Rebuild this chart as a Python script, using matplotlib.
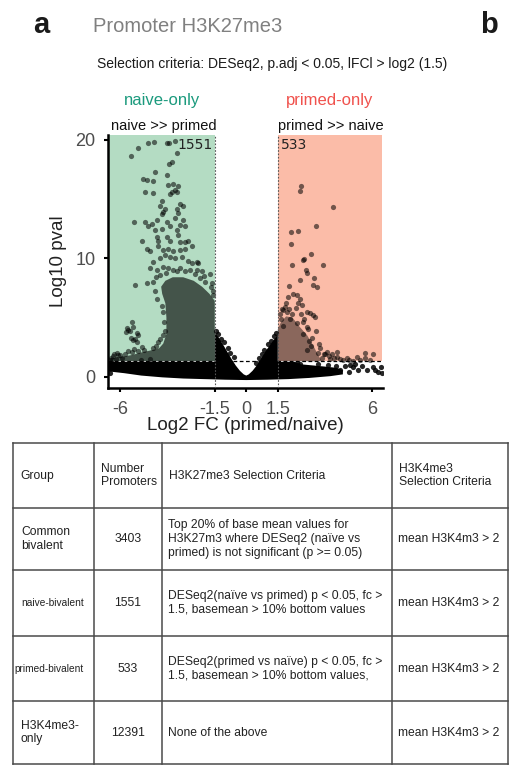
import matplotlib
matplotlib.use("Agg")
import matplotlib.pyplot as plt

plt.rcParams['font.family'] = ['Liberation Sans', 'DejaVu Sans']

W, H = 509, 765

# --- volcano plot data ---
fc_cut = 1.5
p_cut = 1.3
x_lim = (-6.58, 6.51)
y_lim = (-0.95, 20.41)
shade_right = 6.45
n_naive = 1551
n_primed = 533

# scattered significant points, naive side (log2 FC, -log10 p)
naive_fc = [-4.66, -5.14, -5.50, -4.40, -3.76, -3.66, -3.39, -3.31, -3.66, -3.55,
            -4.32, -4.90, -4.74, -4.42, -3.79, -3.71, -3.47, -3.39, -3.23, -3.55, -3.63,
            -4.82, -4.42, -3.31, -4.02, -4.10, -3.15, -3.87, -3.95, -4.02, -3.31, -3.23, -2.99,
            -5.34, -4.82, -4.50, -4.26, -3.79, -3.39, -2.99, -2.91,
            -4.66, -4.34, -4.02, -3.63, -3.31, -3.15,
            -4.98, -4.26, -4.18, -3.79, -3.63, -3.23, -3.15, -2.91, -2.75,
            -4.74, -4.58, -4.18, -3.95, -3.71, -3.47, -3.15, -2.91, -2.59, -2.36, -2.28,
            -4.42, -4.10, -3.87, -3.63, -3.39, -3.07, -2.75, -2.59,
            -4.58, -4.26, -3.95, -3.71, -3.47, -3.15, -2.91, -2.68, -2.36, -2.12, -1.72,
            -5.29, -4.74,
            -4.30, -4.45, -2.20, -1.95, -1.70, -1.60, -4.35, -4.25, -4.00, -3.95, -3.90, -3.85,
            -4.10, -3.95, -2.00, -2.45, -3.30, -3.80, -4.10, -1.58, -1.65,
            -5.69, -5.53, -5.37, -5.21, -5.14, -5.45, -5.61, -5.72, -5.29, -5.37, -5.20, -5.50,
            -6.17, -6.01, -6.30, -6.45,
            -4.45, -4.85, -5.15, -5.45, -5.75, -6.10, -6.35, -4.95, -5.35, -5.65, -4.30, -4.20,
            -6.50, -6.20, -5.90, -5.00, -4.60]
naive_p = [19.7, 19.3, 18.6, 19.8, 19.7, 19.7, 19.9, 18.9, 18.0, 18.1,
           17.3, 16.7, 16.6, 16.5, 17.0, 16.2, 16.3, 15.8, 16.1, 15.6, 15.4,
           15.6, 15.5, 15.6, 14.8, 14.4, 14.6, 14.2, 13.9, 13.7, 14.2, 13.8, 14.4,
           13.1, 13.1, 12.9, 13.2, 13.1, 13.4, 13.2, 12.7,
           12.7, 12.4, 12.5, 12.7, 12.4, 12.8,
           11.5, 11.8, 11.5, 11.8, 11.5, 12.0, 11.4, 11.4, 11.5,
           10.8, 10.6, 11.0, 10.7, 10.8, 10.6, 10.7, 10.8, 11.0, 9.7, 9.6,
           9.7, 10.0, 10.3, 10.1, 10.0, 10.1, 9.8, 9.6,
           9.15, 9.0, 9.3, 9.15, 9.0, 9.15, 8.9, 9.0, 9.0, 8.9, 8.7,
           7.75, 7.9,
           8.4, 8.0, 8.3, 8.0, 7.6, 7.2, 7.2, 6.6, 6.0, 5.5, 4.6, 3.9,
           3.2, 3.5, 8.5, 8.7, 8.9, 8.8, 8.6, 6.9, 7.9,
           4.1, 3.9, 4.2, 3.7, 3.5, 4.6, 3.95, 3.8, 3.2, 3.1, 2.9, 3.3,
           2.0, 1.8, 1.9, 1.6,
           2.45, 2.3, 2.2, 2.05, 1.9, 1.85, 1.75, 2.5, 2.35, 2.15, 2.6, 2.9,
           1.45, 1.5, 1.55, 1.45, 1.5]

# scattered significant points, primed side
primed_fc = [2.61, 2.58, 4.15, 3.32, 2.48, 2.13, 2.13, 3.09, 2.75, 2.72, 2.85, 2.91,
             3.64, 2.16, 3.24, 2.56, 3.19, 3.35, 2.05, 2.24, 2.40, 2.56, 2.48, 2.64,
             2.00, 1.90, 1.77, 1.96, 2.91, 3.04, 3.19, 3.27, 2.40, 2.72, 2.88, 3.32,
             3.83, 4.30, 4.62, 5.10, 5.40, 5.66, 6.05, 5.66, 4.31, 3.00, 3.10, 2.70,
             2.90, 3.40, 3.60, 4.00, 4.80, 1.65, 1.75, 2.10, 2.20, 2.35, 2.60, 2.75,
             3.50, 3.70, 2.95, 4.45, 5.90, 1.60, 1.70, 1.85, 2.05, 3.15, 3.45, 3.75,
             3.95, 4.20, 4.10, 4.90, 5.25]
primed_p = [16.1, 15.7, 14.3, 12.75, 12.3, 12.2, 11.2, 10.4, 9.9, 9.85, 9.0, 8.8,
            9.4, 9.4, 8.3, 8.2, 7.75, 7.6, 7.65, 7.0, 6.9, 6.6, 6.2, 6.05,
            6.75, 6.2, 5.6, 5.5, 5.5, 5.35, 5.2, 5.05, 4.5, 4.65, 4.2, 3.85,
            2.1, 1.7, 1.45, 1.35, 1.45, 1.55, 1.9, 2.0, 2.1, 3.0, 2.6, 3.6,
            2.3, 2.0, 1.6, 1.5, 1.6, 4.9, 4.3, 4.9, 5.3, 5.8, 5.3, 4.9,
            2.4, 1.9, 4.0, 1.5, 1.4, 5.3, 5.7, 5.9, 5.75, 3.3, 2.8, 1.9,
            1.75, 1.55, 1.9, 1.45, 1.7]

# non-significant points outside the dense cloud
ns_fc = [-1.35, -1.20, -0.85, -0.60, 0.60, 0.85, 1.20, 1.40, 1.30, -1.45,
         4.47, 4.70, 4.94, 5.10, 5.30, 5.50, 5.74, 6.05, 6.29, 6.45, 4.90, 5.20, 6.15, 6.40,
         -6.50, -6.40, 2.40, 2.55, -1.05, -0.75, 0.45, 0.75, 1.05, 3.40, 3.90, 4.25]
ns_p = [3.6, 3.2, 2.4, 1.7, 1.6, 2.3, 3.0, 3.7, 3.4, 3.9,
        0.57, 0.90, 0.99, 0.85, 0.60, 0.90, 0.56, 0.85, 0.42, 0.34, 0.40, 1.05, 0.60, 0.85,
        0.30, 1.20, 1.18, 1.10, 2.9, 2.0, 1.2, 1.9, 2.8, 1.05, 0.95, 0.9]

# outline of the dense non-significant cloud
band_fc = [-6.55, -1.5, -1.5, -1.3, -1.1, -0.9, -0.7, -0.5, -0.3, -0.12, 0.0, 0.12, 0.3,
           0.5, 0.7, 0.9, 1.1, 1.3, 1.5, 1.5, 2.3, 2.6, 3.2, 3.8, 4.3, 4.6, 4.6, 4.0,
           3.0, 2.0, 1.0, 0.0, -1.0, -2.0, -3.0, -4.0, -5.0, -5.8, -6.55]
band_p = [1.25, 1.25, 3.7, 3.3, 2.7, 2.1, 1.5, 0.95, 0.5, 0.2, 0.1, 0.2, 0.5,
          0.95, 1.5, 2.1, 2.6, 3.1, 3.5, 1.25, 1.25, 1.05, 0.95, 0.85, 0.75, 0.55, 0.2, 0.05,
          -0.1, -0.2, -0.25, -0.28, -0.25, -0.2, -0.15, -0.05, 0.1, 0.3, 0.45]

# outline of the dense naive-up cloud
core_n_fc = [-1.5, -1.5, -1.75, -2.1, -2.5, -3.0, -3.5, -3.85, -4.05, -4.0, -3.85, -3.8,
             -3.8, -3.95, -4.15, -4.6, -5.0, -5.4, -6.0, -6.45, -6.5]
core_n_p = [1.3, 6.4, 7.0, 7.6, 8.1, 8.4, 8.4, 8.1, 7.6, 7.0, 6.2, 5.0,
            3.6, 2.8, 2.4, 2.2, 2.05, 1.85, 1.65, 1.6, 1.3]

# outline of the dense primed-up cloud
core_p_fc = [1.5, 1.5, 1.65, 1.9, 2.2, 2.5, 2.9, 3.2, 3.4, 3.6]
core_p_p = [1.3, 4.0, 4.6, 5.1, 5.0, 4.3, 3.5, 2.6, 1.9, 1.3]

x_ticks = [-6, -1.5, 0, 1.5, 6]
x_ticklabels = ['-6', '-1.5', '0', '1.5', '6']
y_ticks = [0, 10, 20]

# --- table data ---
col_edges = [13, 94, 162, 392, 508]
row_edges = [443, 508, 570, 636, 701, 764]
header = ['Group', 'Number\nPromoters', 'H3K27me3 Selection Criteria', 'H3K4me3\nSelection Criteria']
groups = ['Common\nbivalent', 'naive-bivalent', 'primed-bivalent', 'H3K4me3-\nonly']
counts = ['3403', '1551', '533', '12391']
k27_criteria = ['Top 20% of base mean values for\nH3K27m3 where DESeq2 (na\u00efve vs\nprimed) is not significant (p >= 0.05)',
                'DESeq2(na\u00efve vs primed) p < 0.05, fc >\n1.5, basemean > 10% bottom values',
                'DESeq2(primed vs na\u00efve) p < 0.05, fc >\n1.5, basemean > 10% bottom values,',
                'None of the above']
k4_criteria = ['mean H3K4m3 > 2'] * 4
group_small = [False, True, True, False]
group_indent = [8, 8, 1, 8]

green = '#b4dcc3'
red = '#fbbca8'
teal = '#1b9a7d'
salmon = '#f0524d'

fig = plt.figure(figsize=(W / 100, H / 100), dpi=100)


def fx(px):
    return px / W


def fy(py):
    return 1 - py / H


# ---------- volcano plot ----------
ax = fig.add_axes([fx(108), fy(388), 275 / W, 253 / H])
ax.set_xlim(*x_lim)
ax.set_ylim(*y_lim)

ax.fill_between([x_lim[0], -fc_cut], p_cut, y_lim[1], color=green, lw=0, zorder=1)
ax.fill_between([fc_cut, shade_right], p_cut, y_lim[1], color=red, lw=0, zorder=1)

ax.fill(band_fc, band_p, color='black', lw=0, zorder=2)
ax.fill(core_n_fc, core_n_p, color='black', alpha=0.62, lw=0, zorder=2)
ax.fill(core_p_fc, core_p_p, color='black', alpha=0.45, lw=0, zorder=2)

ax.scatter(naive_fc, naive_p, s=14, color='black', alpha=0.55, lw=0, zorder=3)
ax.scatter(primed_fc, primed_p, s=14, color='black', alpha=0.55, lw=0, zorder=3)
ax.scatter(ns_fc, ns_p, s=14, color='black', alpha=0.85, lw=0, zorder=3)

ax.axhline(p_cut, color='black', lw=0.9, ls=(0, (3, 2)), zorder=4)
for v in (-fc_cut, fc_cut):
    ax.axvline(v, color='#555555', lw=0.8, ls=(0, (1.5, 1.5)), zorder=4)

for s in ('top', 'right'):
    ax.spines[s].set_visible(False)
for s in ('left', 'bottom'):
    ax.spines[s].set_linewidth(1.8)
ax.set_xticks(x_ticks)
ax.set_xticklabels(x_ticklabels)
ax.set_yticks(y_ticks)
ax.tick_params(labelsize=13, labelcolor='#4d4d4d', width=1.5, length=3, pad=6)
ax.set_xlabel('Log2 FC (primed/naive)', fontsize=13.5, color='#222222', labelpad=0)
ax.set_ylabel('Log10 pval', fontsize=13.5, color='#222222', labelpad=6)

fig.text(fx(213), fy(149), str(n_naive), fontsize=10, family='DejaVu Sans', color='#222222', ha='right')
fig.text(fx(281), fy(149), str(n_primed), fontsize=10, family='DejaVu Sans', color='#222222', ha='left')

# ---------- titles ----------
fig.text(fx(33), fy(33), 'a', fontsize=21, fontweight='bold', color='#1a1a1a')
fig.text(fx(480), fy(33), 'b', fontsize=21, fontweight='bold', color='#1a1a1a')
fig.text(fx(93), fy(32), 'Promoter H3K27me3', fontsize=14.5, color='#808080')
fig.text(fx(272), fy(68), 'Selection criteria: DESeq2, p.adj < 0.05, lFCl > log2 (1.5)',
         fontsize=10, color='#1a1a1a', ha='center')
fig.text(fx(162), fy(105), 'naive-only', fontsize=12, color=teal, ha='center')
fig.text(fx(330), fy(105), 'primed-only', fontsize=12, color=salmon, ha='center')
fig.text(fx(164), fy(130), 'naive >> primed', fontsize=10.5, color='#111111', ha='center')
fig.text(fx(331), fy(130), 'primed >> naive', fontsize=10.5, color='#111111', ha='center')

# ---------- table ----------
tax = fig.add_axes([0, 0, 1, 1])
tax.set_xlim(0, W)
tax.set_ylim(H, 0)
tax.axis('off')
for y in row_edges:
    tax.plot([col_edges[0], col_edges[-1]], [y, y], color='#4a4a4a', lw=1.1)
for x in col_edges:
    tax.plot([x, x], [row_edges[0], row_edges[-1]], color='#4a4a4a', lw=1.1)

tfs = 8.7
ls = 1.2
for j, txt in enumerate(header):
    yc = (row_edges[0] + row_edges[1]) / 2
    tax.text(col_edges[j] + 7, yc, txt, fontsize=tfs, va='center', ha='left', color='#222222',
             linespacing=ls)
for i in range(4):
    yc = (row_edges[i + 1] + row_edges[i + 2]) / 2
    tax.text(col_edges[0] + group_indent[i], yc, groups[i],
             fontsize=7.3 if group_small[i] else tfs, va='center', ha='left', color='#222222',
             linespacing=ls)
    tax.text((col_edges[1] + col_edges[2]) / 2, yc, counts[i], fontsize=tfs, va='center',
             ha='center', color='#222222')
    tax.text(col_edges[2] + 6, yc, k27_criteria[i], fontsize=tfs, va='center', ha='left',
             color='#222222', linespacing=ls)
    tax.text(col_edges[3] + 6, yc, k4_criteria[i], fontsize=tfs, va='center', ha='left',
             color='#222222')

fig.savefig('out.png', dpi=100)
